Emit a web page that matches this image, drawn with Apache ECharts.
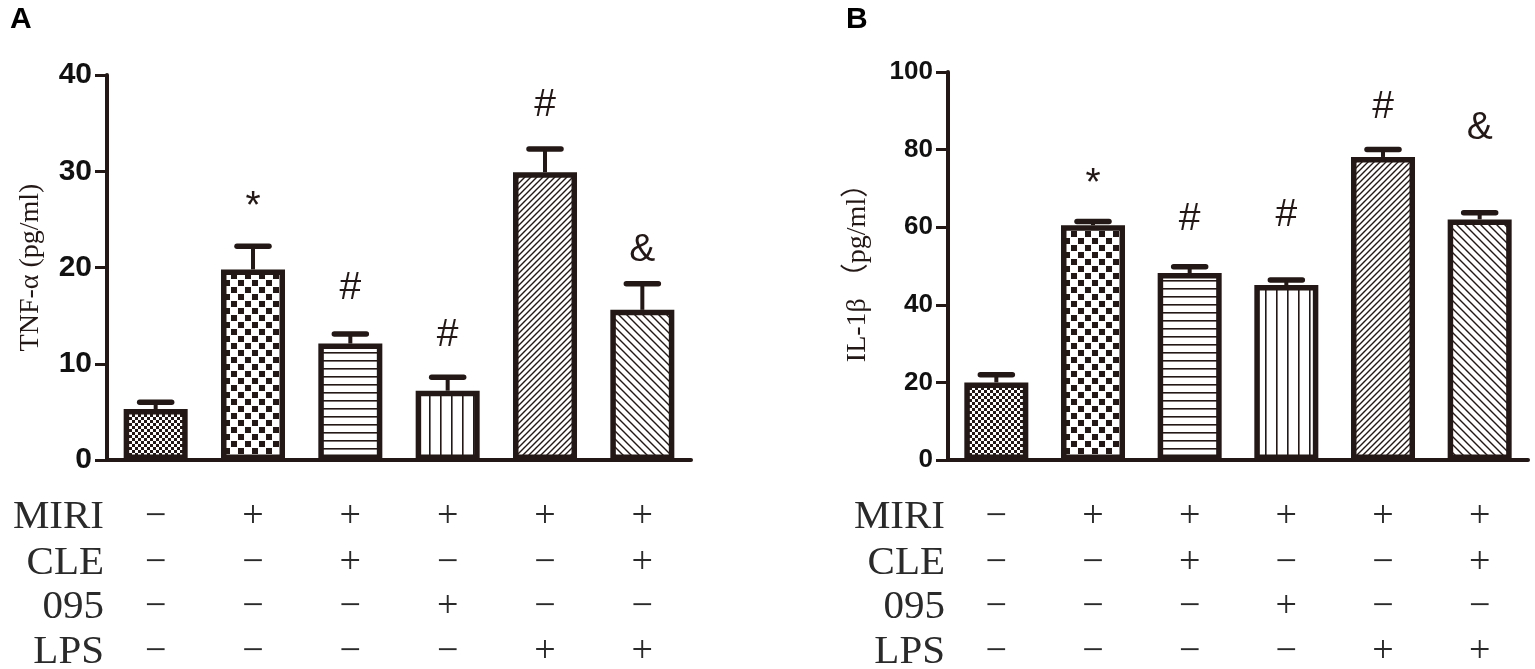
<!DOCTYPE html>
<html>
<head>
<meta charset="utf-8">
<script src="https://cdn.jsdelivr.net/npm/echarts@6/dist/echarts.min.js"></script>
<style>
html, body { margin: 0; padding: 0; background: #fff; }
#main { width: 1535px; height: 669px; }
</style>
</head>
<body>
<div id="main"></div>
<script>
// values
var groups = ['g1', 'g2', 'g3', 'g4', 'g5', 'g6'];
var tnfMean = [5.3, 19.8, 12.1, 7.2, 29.9, 15.6];
var tnfErr = [0.7, 2.4, 1.0, 1.4, 2.4, 2.7];
var tnfMark = ['', '*', '#', '#', '#', '&'];
var tnfMarkAt = [0, 27.1, 17.8, 13.0, 36.9, 21.8];
var ilMean = [20.0, 60.5, 48.2, 45.1, 78.1, 62.0];
var ilErr = [2.0, 1.0, 1.6, 1.3, 1.9, 1.7];
var ilMark = ['', '*', '#', '#', '#', '&'];
var ilMarkAt = [0, 73.2, 62.1, 63.0, 90.9, 85.4];
var rowNames = ['MIRI', 'CLE', '095', 'LPS'];
var miri = ['\u2212', '+', '+', '+', '+', '+'];
var cle = ['\u2212', '\u2212', '+', '\u2212', '\u2212', '+'];
var o95 = ['\u2212', '\u2212', '\u2212', '+', '\u2212', '\u2212'];
var lps = ['\u2212', '\u2212', '\u2212', '\u2212', '+', '+'];
var rows = [miri, cle, o95, lps];

var ink = '#231815';
var rowOffsets = [57, 103, 147, 192];

function pattern(kind) {
    var c = document.createElement('canvas'), g, s;
    s = {fine: 6, coarse: 14, hline: 8, vline: 11, fwd: 6, back: 8}[kind];
    c.width = s; c.height = s;
    g = c.getContext('2d');
    g.fillStyle = '#fff'; g.fillRect(0, 0, s, s);
    g.fillStyle = ink; g.strokeStyle = ink;
    if (kind == 'fine') {
        g.fillRect(0, 0, 3, 3); g.fillRect(3, 3, 3, 3);
    } else if (kind == 'coarse') {
        g.fillRect(0, 0, 7, 7); g.fillRect(7, 7, 7, 7);
        g.fillStyle = '#fff';
        g.fillRect(6, 0, 1, 14); g.fillRect(0, 6, 14, 1);
        g.fillRect(13, 0, 1, 14); g.fillRect(0, 13, 14, 1);
    } else if (kind == 'hline') {
        g.fillRect(0, 0, s, 1.6);
    } else if (kind == 'vline') {
        g.fillRect(0, 0, 1.6, s);
    } else {
        g.lineWidth = 1.4;
        g.beginPath();
        if (kind == 'fwd') {
            g.moveTo(0, s); g.lineTo(s, 0);
            g.moveTo(-1, 1); g.lineTo(1, -1);
            g.moveTo(s - 1, s + 1); g.lineTo(s + 1, s - 1);
        } else {
            g.moveTo(0, 0); g.lineTo(s, s);
            g.moveTo(s - 1, -1); g.lineTo(s + 1, 1);
            g.moveTo(-1, s - 1); g.lineTo(1, s + 1);
        }
        g.stroke();
    }
    return {image: c, repeat: 'repeat'};
}
var fills = ['fine', 'coarse', 'hline', 'vline', 'fwd', 'back'].map(pattern);

function errRender(params, api) {
    var base = api.coord([api.value(0), api.value(1)]);
    var top = api.coord([api.value(0), api.value(1) + api.value(2)]);
    return {
        type: 'group', children: [
            {type: 'line', shape: {x1: base[0], y1: base[1], x2: top[0], y2: top[1]}, style: {stroke: ink, lineWidth: 4}},
            {type: 'line', shape: {x1: top[0] - 16, y1: top[1], x2: top[0] + 16, y2: top[1]}, style: {stroke: ink, lineWidth: 5.5, lineCap: 'round'}}
        ]
    };
}

function markRender(marks) {
    return function (params, api) {
        var i = api.value(0), p = api.coord([i, api.value(1)]);
        var m = marks[i];
        if (!m) return;
        return {
            type: 'text', x: p[0], y: p[1] + (m == '*' ? 8 : 0),
            style: {text: m, fontSize: 39, fontFamily: 'Liberation Sans, Arial, sans-serif', fill: ink, align: 'center', verticalAlign: 'middle'}
        };
    };
}

var grids = [
    {left: 107, width: 584, top: 75, bottom: 209, outerBoundsMode: 'none'},
    {left: 948, width: 580, top: 72, bottom: 209, outerBoundsMode: 'none'}
];

var xAxes = [0, 1].map(function (gi) {
    return {
        type: 'category', gridIndex: gi, data: groups,
        axisLine: {lineStyle: {color: ink, width: 4}},
        axisTick: {alignWithLabel: true, length: 12, lineStyle: {color: ink, width: 3}},
        axisLabel: {show: false}
    };
});
[0, 1].forEach(function (gi) {
    rows.forEach(function (row, r) {
        xAxes.push({
            type: 'category', gridIndex: gi, data: groups, position: 'bottom', offset: rowOffsets[r],
            axisLine: {show: false}, axisTick: {show: false},
            axisLabel: {
                interval: 0, margin: 0, verticalAlign: 'middle', fontSize: 38, color: '#2a2a2a',
                fontFamily: 'Liberation Serif, Times New Roman, serif',
                formatter: function (v, idx) { return row[idx]; }
            },
            name: rowNames[r], nameLocation: 'start', nameGap: 3, nameMoveOverlap: false,
            nameTextStyle: {fontSize: 41, color: '#2a2a2a', fontFamily: 'Liberation Serif, Times New Roman, serif', verticalAlign: 'middle'}
        });
    });
});

function yAxisOf(gi, min, max, step, name, gap, fs) {
    return {
        type: 'value', gridIndex: gi, min: min, max: max, interval: step,
        splitLine: {show: false},
        axisLine: {show: true, lineStyle: {color: ink, width: 4}},
        axisTick: {show: true, length: 12, lineStyle: {color: ink, width: 3}},
        axisLabel: {fontSize: fs, fontWeight: 'bold', color: '#111', margin: 15, fontFamily: 'Liberation Sans, Arial, sans-serif'},
        name: name, nameLocation: 'middle', nameGap: gap, nameMoveOverlap: false,
        nameTextStyle: {fontSize: 28, color: ink, fontFamily: 'Liberation Serif, Times New Roman, Noto Sans CJK SC, serif'}
    };
}

function barSeries(xi, yi, vals) {
    return {
        type: 'bar', xAxisIndex: xi, yAxisIndex: yi, barWidth: 64, silent: true,
        data: vals.map(function (v, i) {
            return {value: v, itemStyle: {color: fills[i]}};
        }),
        itemStyle: {borderColor: ink, borderWidth: 5.5}
    };
}

function errSeries(xi, yi, mean, err) {
    return {
        type: 'custom', xAxisIndex: xi, yAxisIndex: yi, silent: true,
        renderItem: errRender,
        data: mean.map(function (v, i) { return [i, v, err[i]]; })
    };
}

function markSeries(xi, yi, marks, at) {
    return {
        type: 'custom', xAxisIndex: xi, yAxisIndex: yi, silent: true,
        renderItem: markRender(marks),
        data: at.map(function (v, i) { return [i, v]; })
    };
}

var chart = echarts.init(document.getElementById('main'));
chart.setOption({
    animation: false,
    backgroundColor: '#fff',
    title: [
        {text: 'A', left: 10, top: 5, padding: 0, textStyle: {fontSize: 30, fontWeight: 'bold', color: '#000', fontFamily: 'Liberation Sans, Arial'}},
        {text: 'B', left: 846, top: 5, padding: 0, textStyle: {fontSize: 30, fontWeight: 'bold', color: '#000', fontFamily: 'Liberation Sans, Arial'}}
    ],
    grid: grids,
    xAxis: xAxes,
    yAxis: [
        yAxisOf(0, 0, 40, 10, 'TNF-\u03b1 (pg/ml)', 62, 30),
        yAxisOf(1, 0, 100, 20, 'IL-1\u03b2 \uff08pg/ml\uff09', 76, 26)
    ],
    series: [
        errSeries(0, 0, tnfMean, tnfErr),
        barSeries(0, 0, tnfMean),
        markSeries(0, 0, tnfMark, tnfMarkAt),
        errSeries(1, 1, ilMean, ilErr),
        barSeries(1, 1, ilMean),
        markSeries(1, 1, ilMark, ilMarkAt)
    ]
});
</script>
</body>
</html>
